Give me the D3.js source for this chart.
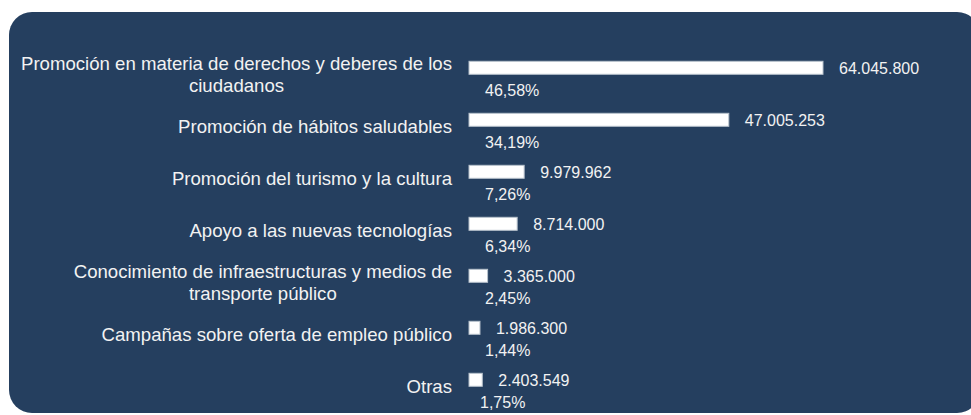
<!DOCTYPE html>
<html>
<head>
<meta charset="utf-8">
<script src="https://cdn.jsdelivr.net/npm/d3@7"></script>
<style>
	html, body { margin: 0; padding: 0; background: #ffffff; }
	svg { display: block; }
	text { font-family: Arial, "Liberation Sans", sans-serif; fill: #f2f2f2; }
</style>
</head>
<body>
<div id="chart"></div>
<script>
const categories = [
	"Promoción en materia de derechos y deberes de los ciudadanos",
	"Promoción de hábitos saludables",
	"Promoción del turismo y la cultura",
	"Apoyo a las nuevas tecnologías",
	"Conocimiento de infraestructuras y medios de transporte público",
	"Campañas sobre oferta de empleo público",
	"Otras"
];
const amounts = [64045800, 47005253, 9979962, 8714000, 3365000, 1986300, 2403549];
const shares = ["46,58%", "34,19%", "7,26%", "6,34%", "2,45%", "1,44%", "1,75%"];

const width = 971;
const height = 415;
const labelRight = 452;
const labelMax = 445;

const es = d3.formatLocale({decimal: ",", thousands: ".", grouping: [3], currency: ["", "€"]});
const fmt = es.format(",d");

var svg = d3.select("#chart")
	.append("svg")
	.attr("width", width)
	.attr("height", height);

// panel
svg.append("rect")
	.attr("x", 9)
	.attr("y", 12)
	.attr("width", 971)
	.attr("height", 401)
	.attr("rx", 23)
	.attr("ry", 23)
	.attr("fill", "#253f5f");

var x = d3.scaleLinear()
	.domain([0, d3.max(amounts)])
	.range([469, 823]);

var y = d3.scaleBand()
	.domain(categories)
	.range([41.8, 405.8])
	.paddingInner(0.75)
	.paddingOuter(0.375);

var rows = svg.append("g")
	.selectAll("g")
	.data(categories)
	.enter()
	.append("g");

rows.append("rect")
	.attr("x", x(0))
	.attr("y", function (d) { return y(d); })
	.attr("width", function (d, i) { return x(amounts[i]) - x(0); })
	.attr("height", y.bandwidth())
	.attr("fill", "#ffffff")
	.attr("stroke", "#b8c2cc")
	.attr("stroke-width", 1);

rows.append("text")
	.attr("x", function (d, i) { return x(amounts[i]) + 16; })
	.attr("y", function (d) { return y(d) + y.bandwidth() / 2 + 6.5; })
	.style("font-size", "16px")
	.text(function (d, i) { return fmt(amounts[i]); });

rows.append("text")
	.attr("x", function (d, i) { return x(0) + (i == categories.length - 1 ? 11 : 16); })
	.attr("y", function (d) { return y(d) + y.bandwidth() / 2 + 28; })
	.style("font-size", "16px")
	.text(function (d, i) { return shares[i]; });

// category labels, wrapped and centred in a right-aligned block
rows.each(function (d) {
	var g = d3.select(this);
	var t = g.append("text").style("font-size", "18.6px");
	var words = d.split(" ");
	var lines = [];
	var cur = "";
	words.forEach(function (w) {
		var test = cur ? cur + " " + w : w;
		t.text(test);
		if (t.node().getComputedTextLength() > labelMax && cur) {
			lines.push(cur);
			cur = w;
		} else {
			cur = test;
		}
	});
	lines.push(cur);
	t.text(null);
	var maxW = 0;
	lines.forEach(function (l) {
		t.text(l);
		maxW = Math.max(maxW, t.node().getComputedTextLength());
	});
	t.text(null);
	var cy = y(d) + y.bandwidth() / 2 + 13;
	var cx = labelRight - maxW / 2;
	t.attr("text-anchor", "middle");
	lines.forEach(function (l, k) {
		t.append("tspan")
			.attr("x", cx)
			.attr("y", cy + (k - (lines.length - 1) / 2) * 21.5)
			.text(l);
	});
});
</script>
</body>
</html>
